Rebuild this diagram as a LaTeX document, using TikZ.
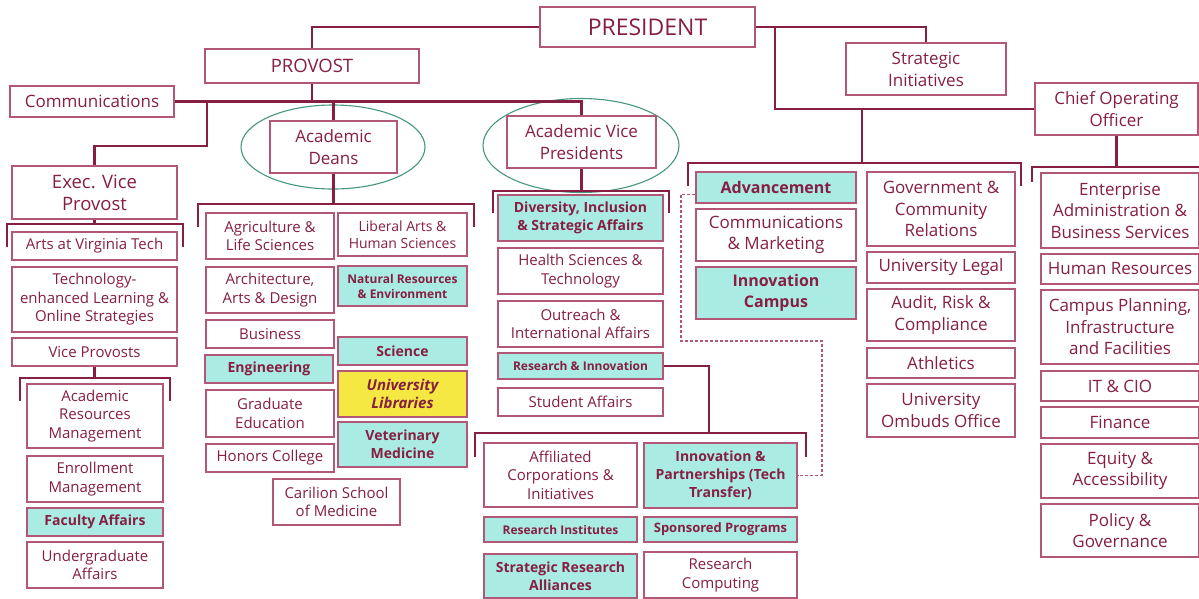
\documentclass[tikz,border=0pt]{standalone}
\usepackage{fontspec}
\setmainfont{Open Sans}
\definecolor{VTMaroon}{RGB}{134,31,65}
\definecolor{BoxRim}{RGB}{178,88,118}
\definecolor{Aqua}{RGB}{170,236,228}
\definecolor{LibYellow}{RGB}{246,232,66}
\definecolor{OvalGreen}{RGB}{70,150,130}
\usetikzlibrary{shapes.geometric, calc}

\begin{document}
\begin{tikzpicture}[x=1pt, y=-1pt,
    every node/.style={align=center, text=VTMaroon},
    wh/.style 2 args={minimum width=#1pt, minimum height=#2pt},
    box/.style={draw=BoxRim, line width=1.3pt, fill=white, inner sep=0pt, font=\fontsize{15}{18.5}\selectfont},
    aqua/.style={box, fill=Aqua},
    yel/.style={box, fill=LibYellow},
    headfont/.style={font=\fontsize{17}{22}\selectfont},
    midfont/.style={font=\fontsize{17}{21.5}\selectfont},
    midbold/.style={font=\fontsize{16}{21.5}\selectfont\bfseries},
    subbold/.style={font=\fontsize{14}{18}\selectfont\bfseries},
    tinybold/.style={font=\fontsize{12}{15}\selectfont\bfseries},
    oval/.style={draw=OvalGreen, line width=1.1pt, ellipse, inner sep=0pt},
    conn/.style={draw=VTMaroon, line width=2.2pt},
    dashconn/.style={draw=BoxRim, line width=1.2pt, dash pattern=on 3pt off 2pt}
]
\fill[white] (0,0) rectangle (1199,598);
\useasboundingbox (0,0) rectangle (1199,598);

% ovals round the two provost groups
\node[oval, wh={184}{84}] (deansov) at (333,147) {};
\node[oval, wh={196}{94}] (acvpov) at (581,145.5) {};

% top level
\node[box, font=\fontsize{23}{26}\selectfont, wh={215}{40}] (pres) at (647.5,27) {PRESIDENT};
\node[box, font=\fontsize{18.5}{22}\selectfont, wh={214}{34}] (prov) at (312,66) {PROVOST};
\node[box, headfont, wh={164}{31}] (comm) at (92,101.5) {Communications};
\node[box, headfont, wh={160}{52}] (strat) at (926,69) {Strategic\\Initiatives};
\node[box, headfont, wh={163}{52}] (coo) at (1116.5,109) {Chief Operating\\Officer};
\node[box, headfont, wh={127}{52}] (deans) at (333.5,147) {Academic\\Deans};
\node[box, headfont, wh={149}{52}] (acvp) at (581.5,142) {Academic Vice\\Presidents};
\node[box, font=\fontsize{18.5}{22}\selectfont, wh={165}{53}] (evp) at (94.5,192.5) {Exec. Vice\\Provost};

% exec vice provost
\node[box, wh={165}{28}] (arts) at (94.5,246) {Arts at Virginia Tech};
\node[box, wh={165}{65}] (tel) at (94.5,299.5) {Technology-\\enhanced Learning \&\\Online Strategies};
\node[box, wh={165}{28}] (vprov) at (94.5,352) {Vice Provosts};
\node[box, wh={136}{64}] (arm) at (95,416) {Academic\\Resources\\Management};
\node[box, wh={136}{46}] (enr) at (95,479) {Enrollment\\Management};
\node[aqua, subbold, wh={136}{28}] (fac) at (95,522) {Faculty Affairs};
\node[box, wh={136}{46}] (ugr) at (95,565) {Undergraduate\\Affairs};

% academic deans
\node[box, wh={128}{46}] (agr) at (270,236) {Agriculture \&\\Life Sciences};
\node[box, wh={128}{46}] (arch) at (270,290) {Architecture,\\Arts \& Design};
\node[box, wh={128}{28}] (bus) at (270,334) {Business};
\node[aqua, subbold, wh={128}{28}] (eng) at (269,369) {Engineering};
\node[box, wh={128}{47}] (grad) at (270,413.5) {Graduate\\Education};
\node[box, wh={128}{28}] (hon) at (270,458) {Honors College};
\node[box, font=\fontsize{14}{16.5}\selectfont, wh={129}{43}] (lib) at (402.5,234.5) {Liberal Arts \&\\Human Sciences};
\node[aqua, tinybold, wh={129}{40}] (nat) at (402.5,286) {Natural Resources\\\& Environment};
\node[aqua, subbold, wh={129}{28}] (sci) at (402.5,351) {Science};
\node[yel, font=\fontsize{15}{18}\selectfont\bfseries\itshape, wh={129}{46}] (ulib) at (402.5,394) {University\\Libraries};
\node[aqua, subbold, wh={129}{45}] (vet) at (402.5,444.5) {Veterinary\\Medicine};
\node[box, wh={127}{46}] (car) at (336.5,502) {Carilion School\\of Medicine};

% academic vice presidents
\node[aqua, subbold, wh={165}{46}] (div) at (580.5,218) {Diversity, Inclusion\\\& Strategic Affairs};
\node[box, wh={165}{46}] (hst) at (580.5,271) {Health Sciences \&\\Technology};
\node[box, wh={165}{46}] (out) at (580.5,324) {Outreach \&\\International Affairs};
\node[aqua, tinybold, wh={165}{26}] (rni) at (580.5,366) {Research \& Innovation};
\node[box, wh={165}{28}] (stu) at (580.5,402) {Student Affairs};

% research and innovation
\node[box, wh={153}{64}] (aff) at (560.5,475) {Affiliated\\Corporations \&\\Initiatives};
\node[aqua, subbold, wh={153}{65}] (inp) at (720.5,475.5) {Innovation \&\\Partnerships (Tech\\Transfer)};
\node[aqua, tinybold, wh={153}{25}] (rins) at (560.5,529.5) {Research Institutes};
\node[aqua, font=\fontsize{13}{16}\selectfont\bfseries, wh={153}{25}] (spon) at (720.5,529.5) {Sponsored Programs};
\node[aqua, subbold, wh={153}{44}] (sra) at (560.5,576) {Strategic Research\\Alliances};
\node[box, wh={153}{46}] (rcomp) at (720.5,575) {Research\\Computing};

% president's offices
\node[aqua, midbold, wh={160}{31}] (adv) at (776,187.5) {Advancement};
\node[box, midfont, wh={160}{52}] (cmk) at (776,235) {Communications\\\& Marketing};
\node[aqua, midbold, wh={160}{52}] (icamp) at (776,293) {Innovation\\Campus};
\node[box, midfont, wh={148}{74}] (gov) at (941,209) {Government \&\\Community\\Relations};
\node[box, midfont, wh={148}{31}] (leg) at (941,267.5) {University Legal};
\node[box, midfont, wh={148}{52}] (aud) at (941,315) {Audit, Risk \&\\Compliance};
\node[box, midfont, wh={148}{30}] (ath) at (941,363) {Athletics};
\node[box, midfont, wh={148}{53}] (omb) at (941,410.5) {University\\Ombuds Office};

% chief operating officer
\node[box, midfont, wh={158}{75}] (ent) at (1120,210.5) {Enterprise\\Administration \&\\Business Services};
\node[box, midfont, wh={158}{30}] (hr) at (1120,269) {Human Resources};
\node[box, midfont, wh={158}{74}] (cpl) at (1120,327) {Campus Planning,\\Infrastructure\\and Facilities};
\node[box, midfont, wh={158}{30}] (it) at (1120,386) {IT \& CIO};
\node[box, midfont, wh={158}{31}] (fin) at (1120,422.5) {Finance};
\node[box, midfont, wh={158}{54}] (eqa) at (1120,471) {Equity \&\\Accessibility};
\node[box, midfont, wh={158}{53}] (pol) at (1120,530.5) {Policy \&\\Governance};

% lines
\coordinate (cooj) at (775,27);
\coordinate (evpj) at (207,146);
\draw[conn] (pres.west) -| (prov.north);
\draw[conn] (pres.east) -| (strat.north);
\draw[conn] (cooj) |- (coo.west);
\draw[conn] (prov.south) -- (prov.south |- comm.east);
\draw[conn] (comm.east) -| (acvp.north);
\draw[conn] (deans.north |- comm.east) -- (deans.north);
\draw[conn] (evpj |- comm.east) -- (evpj) -| (evp.north);

\draw[conn] (evp.south) -- ++(0,5);
\draw[conn] (7,247) |- (183,224) -- (183,247);
\draw[conn] (vprov.south) -- ++(0,12);
\draw[conn] (20,401) |- (170,378) -- (170,401);
\draw[conn] (deans.south) -- ++(0,31);
\draw[conn] (198,227) |- (474,204) -- (474,227);
\draw[conn] (acvp.south) -- ++(0,23);
\draw[conn] (493,213) |- (669,191) -- (669,213);
\draw[conn] (rni.east) -| (709,433);
\draw[conn] (475,457) |- (806,433) -- (806,457);
\draw[conn] (862,108) -- (862,163);
\draw[conn] (688,186) |- (1021,163) -- (1021,186);
\draw[conn] (coo.south) -- ++(0,32);
\draw[conn] (1032,182) |- (1205,167);

\draw[dashconn] ([yshift=-7pt]adv.west) -| (681,341) -- (822,341) |- (inp.east);
\end{tikzpicture}
\end{document}
